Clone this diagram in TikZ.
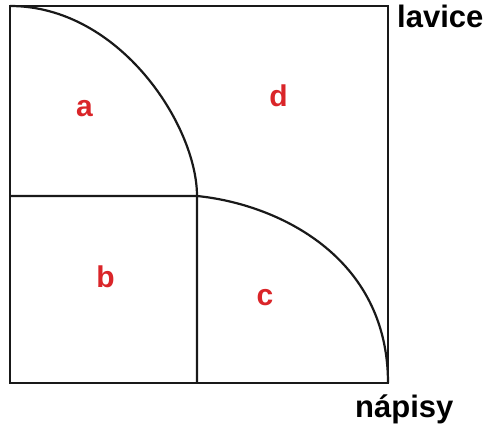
\documentclass[tikz,border=0pt]{standalone}
\usepackage{fontspec}
\setmainfont{Liberation Sans}
\definecolor{lblred}{RGB}{218,37,41}
\begin{document}
\begin{tikzpicture}[x=1pt,y=1pt,
  line/.style={line width=2.2pt,black!90},
  region/.style={inner sep=0pt,anchor=base,text=lblred,font=\fontsize{30}{30}\selectfont\bfseries},
  side/.style={inner sep=0pt,anchor=base west,font=\fontsize{31}{31}\selectfont\bfseries}]
\useasboundingbox (0,0) rectangle (488,426);
\draw[line] (10,420) rectangle (388,43);
\draw[line] (10,420) .. controls (120,420) and (197,300) .. (197,230) -- (197,43);
\draw[line] (10,230) -- (197,230) .. controls (277,222) and (388,170) .. (388,43);
\node[region] (a) at (84.5,309) {a};
\node[region] (d) at (278.5,319) {d};
\node[region] (b) at (105.5,138) {b};
\node[region] (c) at (265,120) {c};
\node[side] (lavice) at (397,398) {lavice};
\node[side] (napisy) at (355,8) {nápisy};
\end{tikzpicture}
\end{document}
